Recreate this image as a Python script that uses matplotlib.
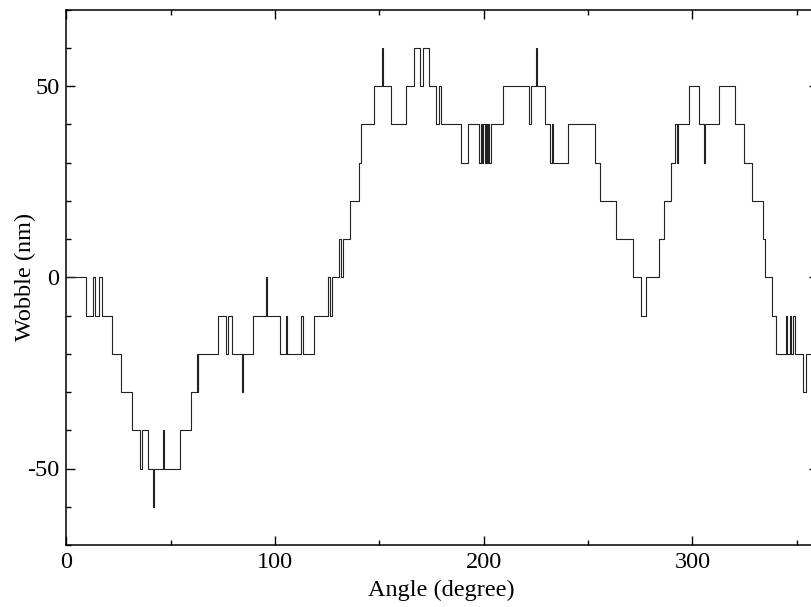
import matplotlib
matplotlib.use("Agg")
import matplotlib.pyplot as plt
from matplotlib.ticker import MultipleLocator

# Step breakpoints (degree) and wobble value (nm) holding from each breakpoint
angles = [0, 9.3, 12.9, 13.6, 15.5, 17.1, 21.7, 26.4, 31.5, 35.3, 36.1, 39.1,
          41.4, 41.8, 46.2, 46.8, 54.5, 59.6, 62.5, 62.9, 63.3, 72.5, 76.4,
          77.3, 79.3, 84.0, 84.8, 89.6, 95.7, 96.3, 102.3, 105.3, 105.9,
          112.3, 113.6, 118.7, 125.6, 126.5, 127.3, 130.5, 131.8, 132.6,
          135.9, 140.3, 141.2, 147.6, 151.2, 151.8, 155.4, 162.8, 166.6,
          169.6, 170.7, 174.0, 177.1, 178.5, 179.6, 189.0, 192.5, 197.9,
          198.5, 199.2, 199.8, 200.4, 201.0, 201.6, 202.2, 202.7, 203.3,
          209.1, 221.6, 222.6, 225.1, 225.7, 229.3, 232.0, 232.5, 233.2,
          240.4, 253.2, 255.6, 263.2, 271.4, 275.2, 277.8, 284.0, 286.6,
          289.9, 291.5, 292.5, 293.3, 298.4, 303.2, 305.4, 306.2, 312.6,
          320.6, 324.9, 328.7, 333.7, 334.8, 338.2, 340.1, 344.7, 345.4,
          346.6, 347.3, 348.3, 349.0, 352.9, 354.3, 360]
wobble = [0, -10, 0, -10, 0, -10, -20, -30, -40, -50, -40, -50,
          -60, -50, -40, -50, -40, -30, -20, -30, -20, -10, -20,
          -10, -20, -30, -20, -10, 0, -10, -20, -10, -20,
          -10, -20, -10, 0, -10, 0, 10, 0, 10,
          20, 30, 40, 50, 60, 50, 40, 50, 60,
          50, 60, 50, 40, 50, 40, 30, 40, 30,
          40, 30, 40, 30, 40, 30, 40, 30, 40,
          50, 40, 50, 60, 50, 40, 30, 40, 30,
          40, 30, 20, 10, 0, -10, 0, 10, 20,
          30, 40, 30, 40, 50, 40, 30, 40, 50,
          40, 30, 20, 10, 0, -10, -20, -10, -20,
          -10, -20, -10, -20, -30, -20, -20]

x_ticks = [0, 100, 200, 300]
y_ticks = [-50, 0, 50]
x_label = "Angle (degree)"
y_label = "Wobble (nm)"

plt.rcParams['font.family'] = ['Liberation Serif', 'DejaVu Serif']

fig = plt.figure(figsize=(8.11, 6.07), dpi=100)
ax_w = (817.6 - 66.3) / 811
ax_h = (545 - 9.5) / 607
ax = fig.add_axes([66.3 / 811, 62 / 607, ax_w, ax_h])

ax.step(angles, wobble, where='post', color='#222222', linewidth=0.8)

ax.set_xlim(0, 360)
ax.set_ylim(-70, 70)
ax.set_xticks(x_ticks)
ax.set_yticks(y_ticks)
ax.set_yticklabels([str(v) for v in y_ticks])
ax.xaxis.set_minor_locator(MultipleLocator(50))
ax.yaxis.set_minor_locator(MultipleLocator(10))
ax.tick_params(which='both', direction='in', top=True, right=True,
               labelsize=17.5, width=1.0, colors='black')
ax.tick_params(which='major', length=6.5, pad=5)
ax.tick_params(which='minor', length=3.6)
for s in ax.spines.values():
    s.set_linewidth(1.1)

ax.set_xlabel(x_label, fontsize=17.5)
ax.set_ylabel(y_label, fontsize=17.5)
ax.xaxis.set_label_coords((441 - 66.3) / (817.6 - 66.3), (545 - 580) / 535.5)
ax.yaxis.set_label_coords((36 - 66.3) / (817.6 - 66.3), 0.5)

fig.savefig("out.png", dpi=100)
